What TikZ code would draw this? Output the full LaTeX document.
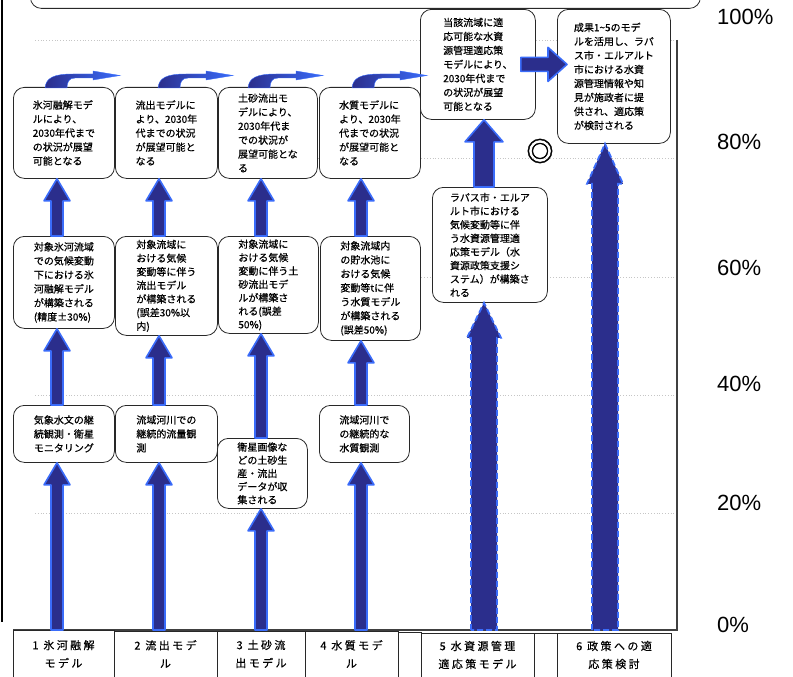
\documentclass[tikz,border=0pt]{standalone}
\usepackage{fontspec}
\newfontfamily\jp{Noto Sans CJK JP}[FakeBold=0.6]
\newfontfamily\jpcat{Noto Sans CJK JP}[FakeBold=0.4, LetterSpace=22]
\newfontfamily\jpmark{Noto Sans CJK JP}[FakeBold=1.5]
\newfontfamily\pctfont{Liberation Sans}
\usetikzlibrary{calc}
\definecolor{arrfill}{RGB}{43,46,140}
\definecolor{arredge}{RGB}{58,108,250}
\definecolor{boxline}{RGB}{40,40,40}
% vertical block arrow between two anchors, on column coordinate #2
\newcommand\vconn[7]{%
  \coordinate (tmpb) at (#2 |- #3);
  \coordinate (tmpt) at (#2 |- #4);
  \path[#1] ([xshift=-#5pt]tmpb) -- ([xshift=-#5pt,yshift=-#7pt]tmpt) -- ([xshift=-#6pt,yshift=-#7pt]tmpt) -- (tmpt)
     -- ([xshift=#6pt,yshift=-#7pt]tmpt) -- ([xshift=#5pt,yshift=-#7pt]tmpt) -- ([xshift=#5pt]tmpb) -- cycle;}
% curved arrow above a box
\newcommand\curvarr[2]{%
  \begin{scope}[shift={($(#1.north west)+(#2,0)$)}]
    \path[left color=arrfill, right color=arredge, draw=arredge, line width=0.4pt]
      (0,1) .. controls (1,-9) and (8,-13) .. (28,-13) -- (48,-13) -- (48,-16) -- (75,-11.5)
      -- (48,-7) -- (48,-9) -- (30,-9) .. controls (24,-9) and (22,-5) .. (22,1) -- cycle;
  \end{scope}}
\begin{document}
\begin{tikzpicture}[x=1pt,y=-1pt,
  box/.style={draw=boxline, line width=0.8pt, rounded corners=11pt, fill=white, align=left,
    inner sep=0pt, anchor=north west, font=\jp\fontsize{10}{14}\selectfont},
  catbox/.style={draw=boxline, line width=0.8pt, fill=white, inner sep=0pt, anchor=north west, minimum height=60pt},
  cattext/.style={align=center, inner sep=0pt, font=\jpcat\fontsize{11}{18}\selectfont},
  pct/.style={anchor=west, inner sep=0pt, font=\pctfont\fontsize{22}{22}\selectfont},
  arr/.style={fill=arrfill, draw=arredge, line width=1.6pt, line join=round},
  arrd/.style={fill=arrfill, draw=arredge, line width=1.8pt, dash pattern=on 6pt off 3pt},
  grid/.style={draw=gray!45, dotted, line width=0.8pt}]
\useasboundingbox (0,0) rectangle (793,677);

% grid and frame
\foreach \yy in {40,158,277,395,513} \draw[grid] (35,\yy) -- (677,\yy);
\draw[line width=1.4pt, black!75] (677,40) -- (677,630) -- (13,630);
\draw[line width=1.8pt] (2,0) -- (2,622);

% top box (cut off)
\node[box, minimum width=670pt, minimum height=40pt] (top) at (30,-32) {};

% row 1
\node[box, minimum width=101pt, minimum height=91pt] (A1) at (13,87) {氷河融解モデ\\ルにより、\\2030年代まで\\の状況が展望\\可能となる};
\node[box, minimum width=102pt, minimum height=91pt] (B1) at (115,87) {流出モデルに\\より、2030年\\代までの状況\\が展望可能と\\なる};
\node[box, minimum width=99pt, minimum height=91pt] (C1) at (218,87) {土砂流出モ\\デルにより、\\2030年代ま\\での状況が\\展望可能とな\\る};
\node[box, minimum width=101pt, minimum height=91pt] (D1) at (319,87) {水質モデルに\\より、2030年\\代までの状況\\が展望可能と\\なる};

% row 2
\node[box, minimum width=101pt, minimum height=92pt] (A2) at (13,236) {対象氷河流域\\での気候変動\\下における氷\\河融解モデル\\が構築される\\(精度±30\%)};
\node[box, minimum width=102pt, minimum height=99pt, font=\jp\fontsize{10}{13.6}\selectfont] (B2) at (115,236) {対象流域に\\おける気候\\変動等に伴う\\流出モデル\\が構築される\\(誤差30\%以\\内)};
\node[box, minimum width=100pt, minimum height=97pt, font=\jp\fontsize{10}{13.4}\selectfont] (C2) at (218,236) {対象流域に\\おける気候\\変動に伴う土\\砂流出モデ\\ルが構築さ\\れる(誤差\\50\%)};
\node[box, minimum width=100pt, minimum height=104pt] (D2) at (320,236) {対象流域内\\の貯水池に\\おける気候\\変動等tに伴\\う水質モデル\\が構築される\\(誤差50\%)};

% row 3
\node[box, minimum width=101pt, minimum height=57pt] (A3) at (13,405) {気象水文の継\\続観測・衛星\\モニタリング};
\node[box, minimum width=102pt, minimum height=57pt] (B3) at (115,405) {流域河川での\\継続的流量観\\測};
\node[box, minimum width=90pt, minimum height=70pt, font=\jp\fontsize{10}{13.2}\selectfont] (C3) at (217,438) {衛星画像な\\どの土砂生\\産・流出\\データが収\\集される};
\node[box, minimum width=90pt, minimum height=57pt] (D3) at (319,405) {流域河川で\\の継続的な\\水質観測};

% right columns
\node[box, minimum width=115pt, minimum height=110pt] (E1) at (420,9) {当該流域に適\\応可能な水資\\源管理適応策\\モデルにより、\\2030年代まで\\の状況が展望\\可能となる};
\node[box, minimum width=113pt, minimum height=134pt] (F1) at (557,9) {成果1\textasciitilde5のモデ\\ルを活用し、ラパ\\ス市・エルアルト\\市における水資\\源管理情報や知\\見が施政者に提\\供され、適応策\\が検討される};
\node[box, minimum width=115pt, minimum height=115pt, font=\jp\fontsize{10}{13.6}\selectfont] (E2) at (432,187) {ラパス市・エルア\\ルト市における\\気候変動等に伴\\う水資源管理適\\応策モデル（水\\資源政策支援シ\\ステム）が構築さ\\れる};

% category row
\node[catbox, minimum width=101pt] (c1) at (13,630) {};
\node[catbox, minimum width=103pt] (c2) at (114,631) {};
\node[catbox, minimum width=88pt] (c3) at (217,631) {};
\node[catbox, minimum width=93pt] (c4) at (305,631) {};
\node[catbox, minimum width=23pt] (cb1) at (398,632) {};
\node[catbox, minimum width=113pt] (c5) at (421,633) {};
\node[catbox, minimum width=23pt] (cb2) at (534,633) {};
\node[catbox, minimum width=114pt] (c6) at (557,633) {};
\node[cattext] (c1t) at (63.5,654) {1 氷河融解\\モデル};
\node[cattext] (c2t) at (165.5,654) {2 流出モデ\\ル};
\node[cattext] (c3t) at (261,654) {3 土砂流\\出モデル};
\node[cattext] (c4t) at (351.5,654) {4 水質モデ\\ル};
\node[cattext] (c5t) at (477.5,655) {5 水資源管理\\適応策モデル};
\node[cattext] (c6t) at (614,655) {6 政策への適\\応策検討};

% percent labels
\node[pct] (p100) at (717,17) {100\%};
\node[pct] (p80) at (717,142) {80\%};
\node[pct] (p60) at (717,268) {60\%};
\node[pct] (p40) at (717,384) {40\%};
\node[pct] (p20) at (717,503) {20\%};
\node[pct] (p0) at (717,625) {0\%};

% column coordinates
\coordinate (k1) at (57,630);
\coordinate (k2) at (159,630);
\coordinate (k3) at (261,630);
\coordinate (k4) at (361,630);
\coordinate (k5) at (484,630);
\coordinate (k6) at (605,630);

% vertical arrows
\vconn{arr}{k1}{k1}{A3.south}{6}{13}{22}
\vconn{arr}{k1}{A3.north}{A2.south}{6}{13}{22}
\vconn{arr}{k1}{A2.north}{A1.south}{6}{13}{22}
\vconn{arr}{k2}{k2}{B3.south}{6}{13}{22}
\vconn{arr}{k2}{B3.north}{B2.south}{6}{13}{22}
\vconn{arr}{k2}{B2.north}{B1.south}{6}{13}{22}
\vconn{arr}{k3}{k3}{C3.south}{6}{13}{22}
\vconn{arr}{k3}{C3.north}{C2.south}{6}{13}{22}
\vconn{arr}{k3}{C2.north}{C1.south}{6}{13}{22}
\vconn{arr}{k4}{k4}{D3.south}{6}{13}{22}
\vconn{arr}{k4}{D3.north}{D2.south}{6}{13}{22}
\vconn{arr}{k4}{D2.north}{D1.south}{6}{13}{22}
\vconn{arrd}{k5}{k5}{E2.south}{13}{17}{35}
\vconn{arr}{k5}{E2.north}{E1.south}{10}{19}{22}
\vconn{arrd}{k6}{k6}{F1.south}{13}{18}{40}

% horizontal arrow E1 -> F1
\coordinate (h0) at ([xshift=-15pt]E1.east);
\coordinate (h1) at ([xshift=10pt]F1.west |- E1.east);
\path[arr] ([yshift=7pt]h0) -- ([xshift=-19pt,yshift=7pt]h1) -- ([xshift=-19pt,yshift=17pt]h1) -- (h1)
  -- ([xshift=-19pt,yshift=-17pt]h1) -- ([xshift=-19pt,yshift=-7pt]h1) -- ([yshift=-7pt]h0) -- cycle;

% curved arrows over row 1
\curvarr{A1}{32}
\curvarr{B1}{43}
\curvarr{C1}{30}
\curvarr{D1}{33}

% double circle mark
\node[font=\jpmark\fontsize{27}{27}\selectfont, inner sep=0pt] (mark) at (540,151) {◎};
\end{tikzpicture}
\end{document}
